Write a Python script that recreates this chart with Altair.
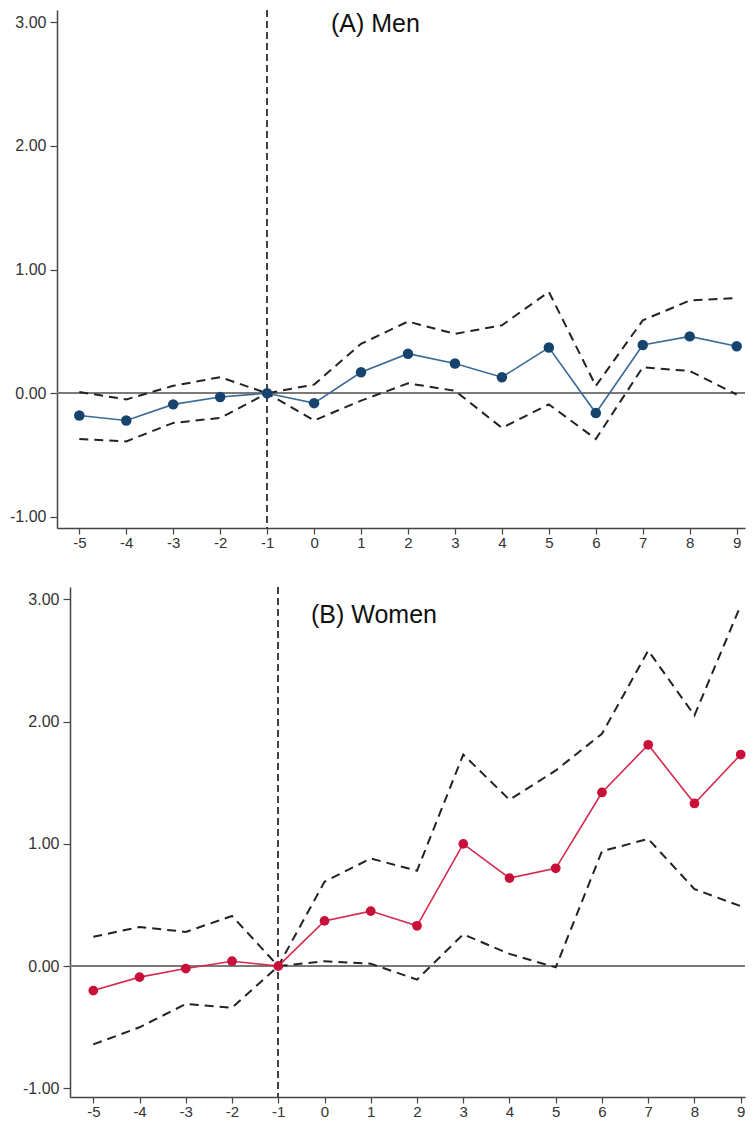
import altair as alt
import pandas as pd

periods = list(range(-5, 10))
y_ticks = [-1, 0, 1, 2, 3]

men_est = [-0.18, -0.22, -0.09, -0.03, 0.0, -0.08, 0.17, 0.32, 0.24, 0.13, 0.37, -0.16, 0.39, 0.46, 0.38]
men_hi = [0.01, -0.05, 0.06, 0.13, 0.0, 0.07, 0.40, 0.58, 0.48, 0.55, 0.82, 0.06, 0.59, 0.75, 0.77]
men_lo = [-0.37, -0.39, -0.24, -0.20, 0.0, -0.22, -0.06, 0.08, 0.02, -0.28, -0.09, -0.37, 0.21, 0.18, -0.01]

women_est = [-0.20, -0.09, -0.02, 0.04, 0.0, 0.37, 0.45, 0.33, 1.00, 0.72, 0.80, 1.42, 1.81, 1.33, 1.73]
women_hi = [0.24, 0.32, 0.28, 0.41, 0.0, 0.69, 0.88, 0.78, 1.73, 1.36, 1.60, 1.90, 2.58, 2.05, 2.95]
women_lo = [-0.64, -0.50, -0.31, -0.34, 0.0, 0.04, 0.02, -0.11, 0.26, 0.10, -0.01, 0.94, 1.04, 0.63, 0.49]

FONT = "Liberation Sans"


def panel(est, lo, hi, point_color, line_color, title, width, height, xdom, ydom,
          title_x, title_y, point_size):
    df = pd.DataFrame({"t": periods, "est": est, "lo": lo, "hi": hi})
    xscale = alt.Scale(domain=xdom, nice=False, zero=False)
    yscale = alt.Scale(domain=ydom, nice=False, zero=False)
    xaxis = alt.Axis(values=periods, title=None, grid=False,
                     tickSize=6, labelPadding=1, labelFontSize=15,
                     labelExpr="(datum.value < 0 ? '-' : '') + format(abs(datum.value), 'd')")
    yaxis = alt.Axis(values=y_ticks, title=None, grid=False,
                     tickSize=7, labelPadding=4, labelFontSize=16,
                     labelExpr="(datum.value < 0 ? '-' : '') + format(abs(datum.value), '.2f')")

    def X():
        return alt.X("t:Q", scale=xscale, axis=xaxis)

    def Y(f):
        return alt.Y(f + ":Q", scale=yscale, axis=yaxis)

    base = alt.Chart(df)
    zero = base.mark_rule(color="#7a7a7a", strokeWidth=1.5).encode(y=alt.datum(0))
    vline = base.mark_rule(color="#444444", strokeWidth=1.1,
                           strokeDash=[7, 4]).encode(x=alt.datum(-1))
    upper = base.mark_line(color="#222222", strokeWidth=2,
                           strokeDash=[9, 6]).encode(x=X(), y=Y("hi"))
    lower = base.mark_line(color="#222222", strokeWidth=2,
                           strokeDash=[9, 6]).encode(x=X(), y=Y("lo"))
    line = base.mark_line(color=line_color, strokeWidth=1.6).encode(x=X(), y=Y("est"))
    pts = base.mark_point(filled=True, opacity=1, color=point_color,
                          size=point_size).encode(x=X(), y=Y("est"))
    label = alt.Chart(pd.DataFrame({"label": [title]})).mark_text(
        font=FONT, fontSize=25, align="left", baseline="middle", color="#111111"
    ).encode(text="label:N", x=alt.value(title_x), y=alt.value(title_y))
    return alt.layer(zero, vline, upper, lower, line, pts, label).properties(
        width=width, height=height)


def spacer(w):
    # invisible block that only reserves horizontal room on the left of a panel
    return alt.Chart(pd.DataFrame({"v": [0]})).mark_point(opacity=0, size=0.1).encode(
        x=alt.value(0.5), y=alt.value(0.5)
    ).properties(width=w, height=10)


top = panel(men_est, men_lo, men_hi, "#17446f", "#3a6a98", "(A) Men",
            688, 518, [-5.475, 9.177], [-1.09, 3.10], 274, 13.5, 110)
bottom = panel(women_est, women_lo, women_hi, "#c8103a", "#d42a4c", "(B) Women",
               675, 510, [-5.504, 9.093], [-1.07, 3.10], 241, 27.5, 95)

upper_row = alt.hconcat(spacer(1), top, spacing=0)
lower_row = alt.hconcat(spacer(14), bottom, spacing=0)

chart = alt.concat(upper_row, lower_row, columns=1, align="none", spacing=36).properties(
    padding={"left": 0, "top": 1, "right": 0, "bottom": 0}
).configure_view(stroke=None).configure_axis(
    domainColor="#444444", domainWidth=1.5, tickColor="#444444", tickWidth=1.2,
    labelColor="#333333", labelFont=FONT
)

chart.save("out.html", embed_options={"renderer": "svg", "actions": False})
